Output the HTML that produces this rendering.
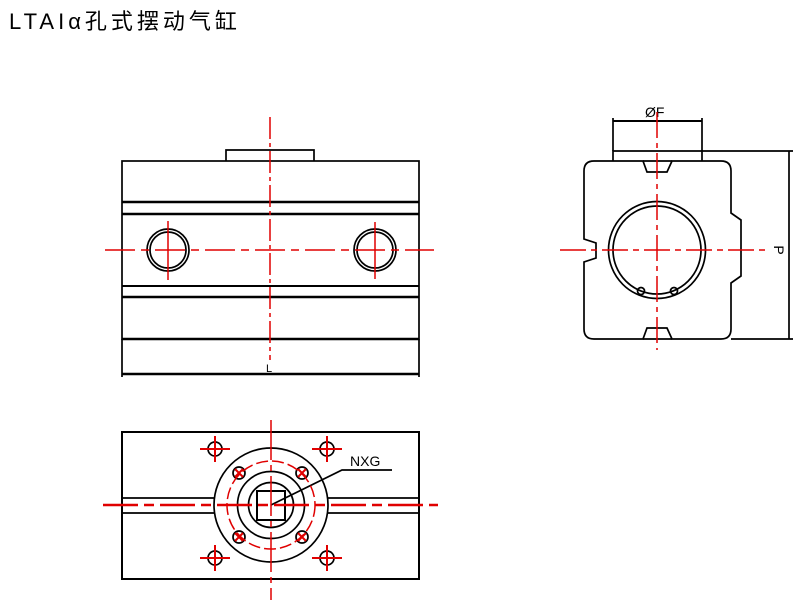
<!DOCTYPE html>
<html><head><meta charset="utf-8"><style>
html,body{margin:0;padding:0;background:#fff;width:801px;height:603px;overflow:hidden}
svg{display:block}
</style></head><body>
<svg width="801" height="603" viewBox="0 0 801 603" xmlns="http://www.w3.org/2000/svg">
<text x="9" y="29" font-family="'Liberation Sans','Noto Sans CJK SC',sans-serif" font-size="22" fill="#000" letter-spacing="4">LTAIα孔式摆动气缸</text>

<g fill="none" stroke="#000" stroke-width="1.7">
<rect x="122" y="161" width="297" height="178"/>
<line x1="122" y1="339" x2="122" y2="377"/><line x1="419" y1="339" x2="419" y2="377"/>
<polyline points="226,161 226,150 314,150 314,161"/>
<line x1="122" y1="202" x2="419" y2="202" stroke-width="2.5"/>
<line x1="122" y1="214" x2="419" y2="214" stroke-width="2.5"/>
<line x1="122" y1="286" x2="419" y2="286" stroke-width="2"/>
<line x1="122" y1="297" x2="419" y2="297" stroke-width="2.5"/>
<line x1="122" y1="339" x2="419" y2="339" stroke-width="2.5"/>
<line x1="122" y1="374" x2="419" y2="374" stroke-width="2.5"/>
<circle cx="168" cy="250" r="21"/><circle cx="168" cy="250" r="18"/>
<circle cx="375" cy="250" r="21"/><circle cx="375" cy="250" r="18"/>
<text x="266" y="372" font-family="'Liberation Sans',sans-serif" font-size="11" fill="#000" stroke="none">L</text>

<path d="M594,161 H643 L647,172 H667 L672,161 H721 Q731,161 731,171 V213 L741,220 V276 L731,283 V329 Q731,339 721,339 H672 L667,328 H647 L643,339 H594 Q584,339 584,329 V262 L596,258 V243 L584,239 V171 Q584,161 594,161 Z"/>
<line x1="643" y1="161" x2="672" y2="161"/><line x1="643" y1="339" x2="672" y2="339"/>
<polyline points="613,161 613,151 702,151 702,161"/>
<line x1="702" y1="151" x2="793" y2="151"/>
<line x1="731" y1="339" x2="793" y2="339"/>
<line x1="789" y1="151" x2="789" y2="339"/>
<line x1="613" y1="121" x2="702" y2="121" stroke-width="2"/>
<line x1="613" y1="118" x2="613" y2="151"/><line x1="702" y1="118" x2="702" y2="151"/>
<circle cx="657" cy="250" r="48.5"/><circle cx="657" cy="250" r="44"/>
<circle cx="641" cy="291" r="3.5"/><circle cx="674" cy="291" r="3.5"/>
<text x="645" y="117" font-family="'Liberation Sans',sans-serif" font-size="14" fill="#000" stroke="none">ØF</text>
<text x="0" y="0" transform="translate(774,250) rotate(90)" font-family="'Liberation Sans',sans-serif" font-size="14" fill="#000" stroke="none" text-anchor="middle">P</text>

<rect x="122" y="432" width="297" height="147" stroke-width="2"/>
<line x1="122" y1="498" x2="214" y2="498"/><line x1="328" y1="498" x2="419" y2="498"/>
<line x1="122" y1="513" x2="214" y2="513"/><line x1="328" y1="513" x2="419" y2="513"/>
<circle cx="271" cy="505" r="57"/>
<circle cx="271" cy="505" r="33.5"/>
<circle cx="271" cy="505" r="22.5"/>
<rect x="257" y="491" width="28" height="29" stroke-width="2"/>
<circle cx="239" cy="473" r="6"/><circle cx="302" cy="473" r="6"/>
<circle cx="239" cy="537" r="6"/><circle cx="302" cy="537" r="6"/>
<circle cx="215" cy="449" r="7"/><circle cx="327" cy="449" r="7"/>
<circle cx="215" cy="558" r="7"/><circle cx="327" cy="558" r="7"/>
<polyline points="271,505 342,470 392,470"/>
<text x="350" y="466" font-family="'Liberation Sans',sans-serif" font-size="14" fill="#000" stroke="none">NXG</text>
</g>

<g fill="none" stroke="#e00000" stroke-width="1.5">
<line x1="270" y1="117" x2="270" y2="360" stroke-dasharray="22,4,4,4"/>
<line x1="105" y1="250" x2="434" y2="250" stroke-dasharray="30,6,8,6"/>
<line x1="168" y1="221" x2="168" y2="280"/><line x1="375" y1="222" x2="375" y2="279"/>
<line x1="657" y1="112" x2="657" y2="350" stroke-dasharray="26,5,5,5"/>
<line x1="560" y1="250" x2="765" y2="250" stroke-dasharray="26,5,6,5"/>
<line x1="271" y1="420" x2="271" y2="600" stroke-dasharray="40,5,6,5"/>
<line x1="103" y1="505" x2="438" y2="505" stroke-width="2.5" stroke-dasharray="35,6,10,6"/>
<circle cx="271" cy="505" r="44" stroke-dasharray="12,4"/>
<g stroke-width="2">
<line x1="200" y1="449" x2="230" y2="449"/><line x1="215" y1="436" x2="215" y2="462"/>
<line x1="312" y1="449" x2="342" y2="449"/><line x1="327" y1="436" x2="327" y2="462"/>
<line x1="200" y1="558" x2="230" y2="558"/><line x1="215" y1="545" x2="215" y2="571"/>
<line x1="312" y1="558" x2="342" y2="558"/><line x1="327" y1="545" x2="327" y2="571"/>
<path d="M235,469 l8,8 M243,469 l-8,8 M298,469 l8,8 M306,469 l-8,8 M235,533 l8,8 M243,533 l-8,8 M298,533 l8,8 M306,533 l-8,8"/>
</g>
</g>
</svg>
</body></html>
